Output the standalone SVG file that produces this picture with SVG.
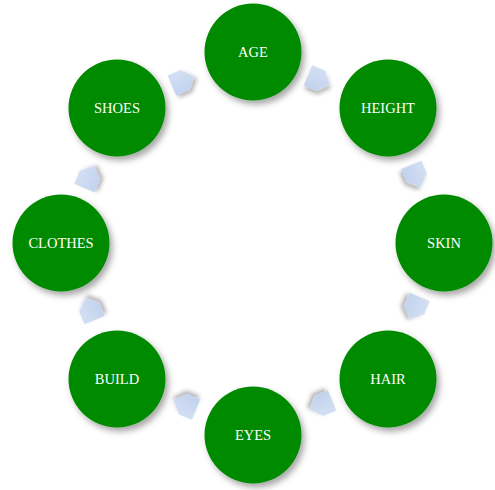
<svg xmlns="http://www.w3.org/2000/svg" width="495" height="490" viewBox="0 0 495 490">
<defs>
<filter id="sh" x="-30%" y="-30%" width="170%" height="170%">
<feDropShadow dx="3" dy="4" stdDeviation="3" flood-color="#000" flood-opacity="0.35"/>
</filter>
<filter id="ash" x="-50%" y="-50%" width="200%" height="200%">
<feDropShadow dx="2" dy="3" stdDeviation="2" flood-color="#000" flood-opacity="0.3"/>
</filter>
<linearGradient id="ag" x1="0" y1="0" x2="0" y2="1">
<stop offset="0" stop-color="#d3dff3"/>
<stop offset="1" stop-color="#c3d3ee"/>
</linearGradient>
<path id="arr" d="M-12,-11 L2,-11 L12,0 L2,11 L-12,11 Z"/>
</defs>
<style>
.n circle{fill:#018a01;filter:url(#sh)}
.n text{fill:#fff;font-family:"Liberation Serif","Times New Roman",serif;font-size:14.5px;text-anchor:middle;dominant-baseline:central}
.c use{fill:url(#ag);filter:url(#ash)}
</style>
<rect width="495" height="490" fill="#fff"/>
<g id="connectors" class="c">
<use href="#arr" transform="translate(319,80) rotate(22.5)"/>
<use href="#arr" transform="translate(416,176) rotate(67.5)"/>
<use href="#arr" transform="translate(415,308) rotate(112.5)"/>
<use href="#arr" transform="translate(321,405) rotate(157.5)"/>
<use href="#arr" transform="translate(185,405) rotate(202.5)"/>
<use href="#arr" transform="translate(90,309) rotate(247.5)"/>
<use href="#arr" transform="translate(89,177) rotate(292.5)"/>
<use href="#arr" transform="translate(183,81) rotate(337.5)"/>
</g>
<g id="age" class="n"><circle cx="253" cy="52" r="48.5"/><text x="253" y="52">AGE</text></g>
<g id="height" class="n"><circle cx="388" cy="108" r="48.5"/><text x="388" y="108">HEIGHT</text></g>
<g id="skin" class="n"><circle cx="444" cy="243" r="48.5"/><text x="444" y="243">SKIN</text></g>
<g id="hair" class="n"><circle cx="388" cy="379" r="48.5"/><text x="388" y="379">HAIR</text></g>
<g id="eyes" class="n"><circle cx="253" cy="435" r="48.5"/><text x="253" y="435">EYES</text></g>
<g id="build" class="n"><circle cx="117" cy="379" r="48.5"/><text x="117" y="379">BUILD</text></g>
<g id="clothes" class="n"><circle cx="61" cy="243" r="48.5"/><text x="61" y="243">CLOTHES</text></g>
<g id="shoes" class="n"><circle cx="117" cy="108" r="48.5"/><text x="117" y="108">SHOES</text></g>
</svg>
